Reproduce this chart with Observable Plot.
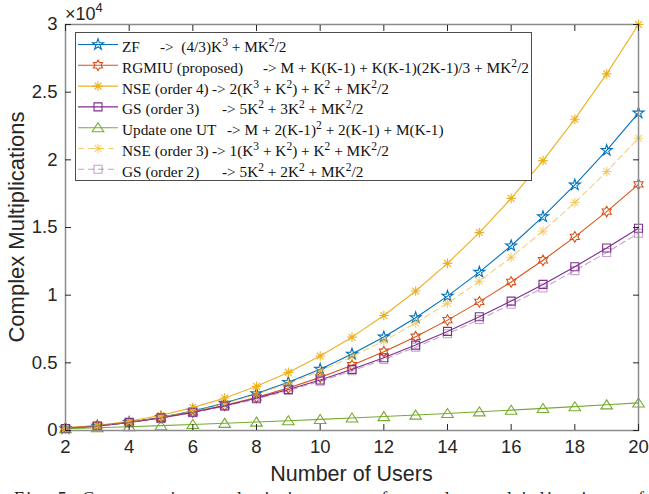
<!DOCTYPE html>
<html><head><meta charset="utf-8">
<script src="https://cdn.jsdelivr.net/npm/d3@7"></script>
<script src="https://cdn.jsdelivr.net/npm/@observablehq/plot@0.6"></script>
<style>html,body{margin:0;padding:0;background:#fff;overflow:hidden}</style>
</head><body><div id="chart"></div>
<script>
// ---- data ----
const users = [2,3,4,5,6,7,8,9,10,11,12,13,14,15,16,17,18,19,20];
const zf     = [139,324,597,967,1440,2025,2731,3564,4533,5647,6912,8337,9931,11700,13653,15799,18144,20697,23467];
const rgmiu  = [196,368,616,944,1356,1856,2448,3136,3924,4816,5816,6928,8156,9504,10976,12576,14308,16176,18184];
const nse4   = [156,369,688,1125,1692,2401,3264,4293,5500,6897,8496,10309,12348,14625,17152,19941,23004,26353,30000];
const gs3    = [149,336,598,934,1345,1830,2390,3025,3735,4519,5378,6312,7321,8404,9562,10794,12101,13483,14940];
const update = [132,204,280,360,444,532,624,720,820,924,1032,1144,1260,1380,1504,1632,1764,1900,2040];
const nse3   = [144,333,608,975,1440,2009,2688,3483,4400,5445,6624,7943,9408,11025,12800,14739,16848,19133,21600];
const gs2    = [146,328,583,911,1312,1786,2333,2952,3645,4410,5249,6160,7144,8201,9331,10534,11810,13158,14580];

const seriesNames = ["ZF","RGMIU (proposed)","NSE (order 4)","GS (order 3)","Update one UT","NSE (order 3)","GS (order 2)"];
const formulas = [
  "->  (4/3)K^3 + MK^2/2",
  "-> M + K(K-1) + K(K-1)(2K-1)/3 + MK^2/2",
  "-> 2(K^3 + K^2) + K^2 + MK^2/2",
  "-> 5K^2 + 3K^2 + MK^2/2",
  "-> M + 2(K-1)^2 + 2(K-1) + M(K-1)",
  "-> 1(K^3 + K^2) + K^2 + MK^2/2",
  "-> 5K^2 + 2K^2 + MK^2/2"
];
const xTicks = [2,4,6,8,10,12,14,16,18,20];
const yTicks = [0,5000,10000,15000,20000,25000,30000];
const yTickLabels = ["0","0.5","1","1.5","2","2.5","3"];
const xLabel = "Number of Users";
const yLabel = "Complex Multiplications";
const caption = "Fig. 5. Comparative analysis in terms of complex multiplications of";

// ---- custom MATLAB-like symbols (size = r^2*pi) ----
const rad = s => Math.sqrt(s / Math.PI);
const pentagram = {draw(c, s){const R=rad(s), r=R*0.382; for(let i=0;i<10;i++){const a=-Math.PI/2+i*Math.PI/5, q=i%2?r:R; i?c.lineTo(q*Math.cos(a),q*Math.sin(a)):c.moveTo(q*Math.cos(a),q*Math.sin(a));} c.closePath();}};
const hexagram = {draw(c, s){const R=rad(s), r=R/Math.sqrt(3); for(let i=0;i<12;i++){const a=-Math.PI/2+i*Math.PI/6, q=i%2?r:R; i?c.lineTo(q*Math.cos(a),q*Math.sin(a)):c.moveTo(q*Math.cos(a),q*Math.sin(a));} c.closePath();}};
const asterisk = {draw(c, s){const R=rad(s); for(let i=0;i<4;i++){const a=i*Math.PI/4; c.moveTo(-R*Math.cos(a),-R*Math.sin(a)); c.lineTo(R*Math.cos(a),R*Math.sin(a));}}};
const square = {draw(c, s){const R=rad(s); c.rect(-R,-R,2*R,2*R);}};
const triangle = {draw(c, s){const R=rad(s); c.moveTo(0,-R*0.85); c.lineTo(R,R*0.7); c.lineTo(-R,R*0.7); c.closePath();}};

const styles = [
  {color:"#0072BD", dash:null,  op:1,    sym:pentagram, r:5.8},
  {color:"#D95319", dash:null,  op:1,    sym:hexagram,  r:5.3},
  {color:"#EDB120", dash:null,  op:1,    sym:asterisk,  r:4.8},
  {color:"#7E2F8E", dash:null,  op:1,    sym:square,    r:4},
  {color:"#77AC30", dash:null,  op:1,    sym:triangle,  r:5.8},
  {color:"#EDB120", dash:"6,4", op:0.6,  sym:asterisk,  r:4.8},
  {color:"#7E2F8E", dash:"6,4", op:0.45, sym:square,    r:4}
];
const valueLists = [zf, rgmiu, nse4, gs3, update, nse3, gs2];
const legendFormulaX = [160, 263, 212, 222, 227, 212, 222];

const rows = valueLists.map((vals, si) => users.map((u, i) => ({series: seriesNames[si], users: u, value: vals[i]})));

const marks = [];
rows.forEach((data, si) => {
  const st = styles[si];
  marks.push(Plot.line(data, {x:"users", y:"value", stroke:st.color, strokeWidth:1.1, strokeOpacity:st.op, strokeDasharray:st.dash || undefined}));
  marks.push(Plot.dot(data, {x:"users", y:"value", symbol:st.sym, r:st.r, stroke:st.color, strokeOpacity:st.op, fill:"none", strokeWidth:1.1}));
});

const plot = Plot.plot({
  width: 649, height: 494,
  marginLeft: 65, marginRight: 11, marginTop: 24, marginBottom: 64,
  style: {fontFamily: "'Liberation Sans', Arial, sans-serif", color: "#262626", background: "#fff"},
  x: {domain: [2, 20]},
  y: {domain: [0, 30000]},
  marks: [
    ...marks,
    Plot.frame({stroke: "#8c8c8c", strokeWidth: 1.5}),
    Plot.axisX({ticks: xTicks, tickSize: -6, tickPadding: 15, fontSize: 18.5, label: null, stroke: "#262626"}),
    Plot.axisX({anchor: "top", ticks: xTicks, tickSize: -6, tickFormat: () => "", label: null, stroke: "#262626"}),
    Plot.axisY({ticks: yTicks, tickSize: -6, tickPadding: 14, fontSize: 18.5, label: null, stroke: "#262626",
      tickFormat: d => yTickLabels[yTicks.indexOf(d)]}),
    Plot.axisY({anchor: "right", ticks: yTicks, tickSize: -6, tickFormat: () => "", label: null, stroke: "#262626"})
  ]
});

const svg = d3.select(plot).attr("overflow", "hidden");
// axis titles
svg.append("text").attr("x", 351.5).attr("y", 481).attr("text-anchor", "middle")
  .attr("font-size", 21.5).attr("fill", "#262626").text(xLabel);
svg.append("text").attr("transform", "translate(24,227) rotate(-90)").attr("text-anchor", "middle")
  .attr("font-size", 22).attr("fill", "#262626").text(yLabel);
// exponent label
const ex = svg.append("text").attr("x", 65).attr("y", 20).attr("text-anchor", "start").attr("font-size", 18).attr("fill", "#262626");
ex.append("tspan").text("\u00d710");
ex.append("tspan").attr("font-size", 13).attr("dy", -8).text("4");

// legend
const lg = svg.append("g").attr("font-family", "'Liberation Serif', 'Times New Roman', serif").attr("font-size", 15.3)
  .attr("fill", "#111").attr("text-anchor", "start");
lg.append("rect").attr("x", 75.5).attr("y", 32.5).attr("width", 456).attr("height", 148)
  .attr("fill", "#fff").attr("stroke", "#4d4d4d").attr("stroke-width", 1);
function addRich(textSel, str) {
  const parts = str.split(/(\^\d)/);
  let raised = false;
  parts.forEach(p => {
    if (!p) return;
    if (p[0] === "^") {
      textSel.append("tspan").attr("font-size", 11.5).attr("dy", -6).text(p.slice(1));
      raised = true;
    } else {
      const t = textSel.append("tspan").text(p);
      if (raised) { t.attr("dy", 6); raised = false; }
    }
  });
}
seriesNames.forEach((name, i) => {
  const st = styles[i];
  const cy = 44.5 + i * 20.8;
  lg.append("line").attr("x1", 78).attr("x2", 118).attr("y1", cy).attr("y2", cy)
    .attr("stroke", st.color).attr("stroke-opacity", st.op).attr("stroke-width", 1.1)
    .attr("stroke-dasharray", st.dash);
  lg.append("path").attr("d", d3.symbol(st.sym, st.r * st.r * Math.PI)())
    .attr("transform", `translate(98,${cy})`).attr("fill", "none")
    .attr("stroke", st.color).attr("stroke-opacity", st.op).attr("stroke-width", 1.1);
  lg.append("text").attr("x", 122).attr("y", cy + 7.5).attr("text-anchor", "start").style("white-space", "pre").text(name);
  const ft = lg.append("text").attr("x", legendFormulaX[i]).attr("y", cy + 7.5).attr("text-anchor", "start").style("white-space", "pre");
  addRich(ft, formulas[i]);
});

// caption (cut at the bottom edge like the reference)
svg.append("text").attr("x", 14).attr("y", 505).attr("text-anchor", "start")
  .attr("font-family", "'Liberation Serif', 'Times New Roman', serif")
  .attr("font-size", 18).attr("fill", "#222").attr("textLength", 630).text(caption);

document.getElementById("chart").appendChild(plot);
</script></body></html>
